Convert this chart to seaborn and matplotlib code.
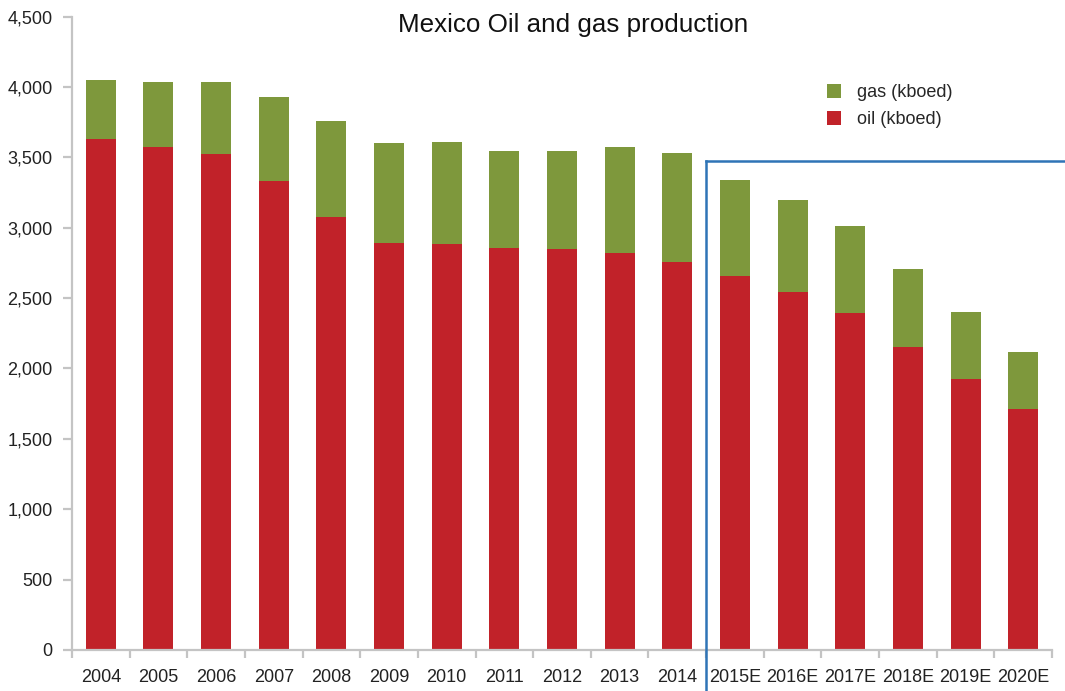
import numpy as np
import pandas as pd
import seaborn as sns
import matplotlib.pyplot as plt
from matplotlib.patches import Patch
from matplotlib.lines import Line2D
from matplotlib.ticker import FuncFormatter, MultipleLocator

# Production by year (thousand barrels of oil equivalent per day)
years = ["2004", "2005", "2006", "2007", "2008", "2009", "2010", "2011", "2012",
         "2013", "2014", "2015E", "2016E", "2017E", "2018E", "2019E", "2020E"]
oil = [3630, 3575, 3525, 3335, 3075, 2890, 2885, 2855, 2850,
       2820, 2760, 2655, 2545, 2395, 2150, 1925, 1710]
gas = [420, 460, 510, 595, 685, 715, 725, 690, 695,
       755, 770, 685, 650, 615, 555, 475, 410]

title = "Mexico Oil and gas production"
gas_label = "gas (kboed)"
oil_label = "oil (kboed)"

GREEN = "#7e983c"
RED = "#c12229"
AXIS_GREY = "#c4c4c4"
BLUE = "#2f74b6"

sns.set_theme(style="white")
plt.rcParams["font.family"] = ["Liberation Sans", "DejaVu Sans"]

df = pd.DataFrame({"year": years, "oil": oil, "gas": gas})
df["total"] = df["oil"] + df["gas"]

fig = plt.figure(figsize=(10.65, 6.91), dpi=100)
ax = fig.add_axes([72 / 1065, 1 - 650 / 691, 980 / 1065, (650 - 16.6) / 691])

# Stacked bars: full height in green, oil portion drawn over it in red
sns.barplot(data=df, x="year", y="total", color=GREEN, width=0.52,
            saturation=1, ax=ax, edgecolor="none", linewidth=0)
sns.barplot(data=df, x="year", y="oil", color=RED, width=0.52,
            saturation=1, ax=ax, edgecolor="none", linewidth=0)

ax.set_xlim(-0.5, len(years) - 0.5)
ax.set_ylim(0, 4500)
ax.set_xlabel("")
ax.set_ylabel("")

ax.yaxis.set_major_locator(MultipleLocator(500))
ax.yaxis.set_major_formatter(FuncFormatter(lambda v, p: f"{int(v):,}"))

# Category labels centred, tick marks on the boundaries between bars
ax.set_xticks(np.arange(len(years)))
ax.set_xticklabels(years)
ax.set_xticks(np.arange(-0.5, len(years)), minor=True)
ax.tick_params(axis="x", which="major", length=0, pad=14,
               labelsize=13, labelcolor="#222222")
ax.tick_params(axis="x", which="minor", length=6, width=1.6,
               color=AXIS_GREY, direction="out", bottom=True)
ax.tick_params(axis="y", which="major", length=6.5, width=1.6,
               color=AXIS_GREY, direction="out", left=True, pad=7.5,
               labelsize=13, labelcolor="#222222")

for side in ["top", "right"]:
    ax.spines[side].set_visible(False)
for side in ["left", "bottom"]:
    ax.spines[side].set_color(AXIS_GREY)
    ax.spines[side].set_linewidth(1.6)

fig.text(573 / 1065, 1 - 25 / 691, title, ha="center", va="center",
         fontsize=18.7, color="#111111")

handles = [Patch(facecolor=GREEN, edgecolor="none", label=gas_label),
           Patch(facecolor=RED, edgecolor="none", label=oil_label)]
fig.legend(handles=handles, loc="upper left",
           bbox_to_anchor=(827 / 1065, 1 - 84 / 691),
           frameon=False, fontsize=13, handlelength=0.78, handleheight=0.78,
           handletextpad=0.9, labelspacing=0.55, borderpad=0,
           borderaxespad=0)

# Forecast period outline
x0, y0 = 705.5 / 1065, 1 - 160.7 / 691
fig.add_artist(Line2D([x0, 1.01], [y0, y0], transform=fig.transFigure,
                      color=BLUE, lw=1.8, solid_capstyle="projecting"))
fig.add_artist(Line2D([x0, x0], [y0, -0.01], transform=fig.transFigure,
                      color=BLUE, lw=1.8, solid_capstyle="projecting"))

fig.savefig("out.png", dpi=100)
